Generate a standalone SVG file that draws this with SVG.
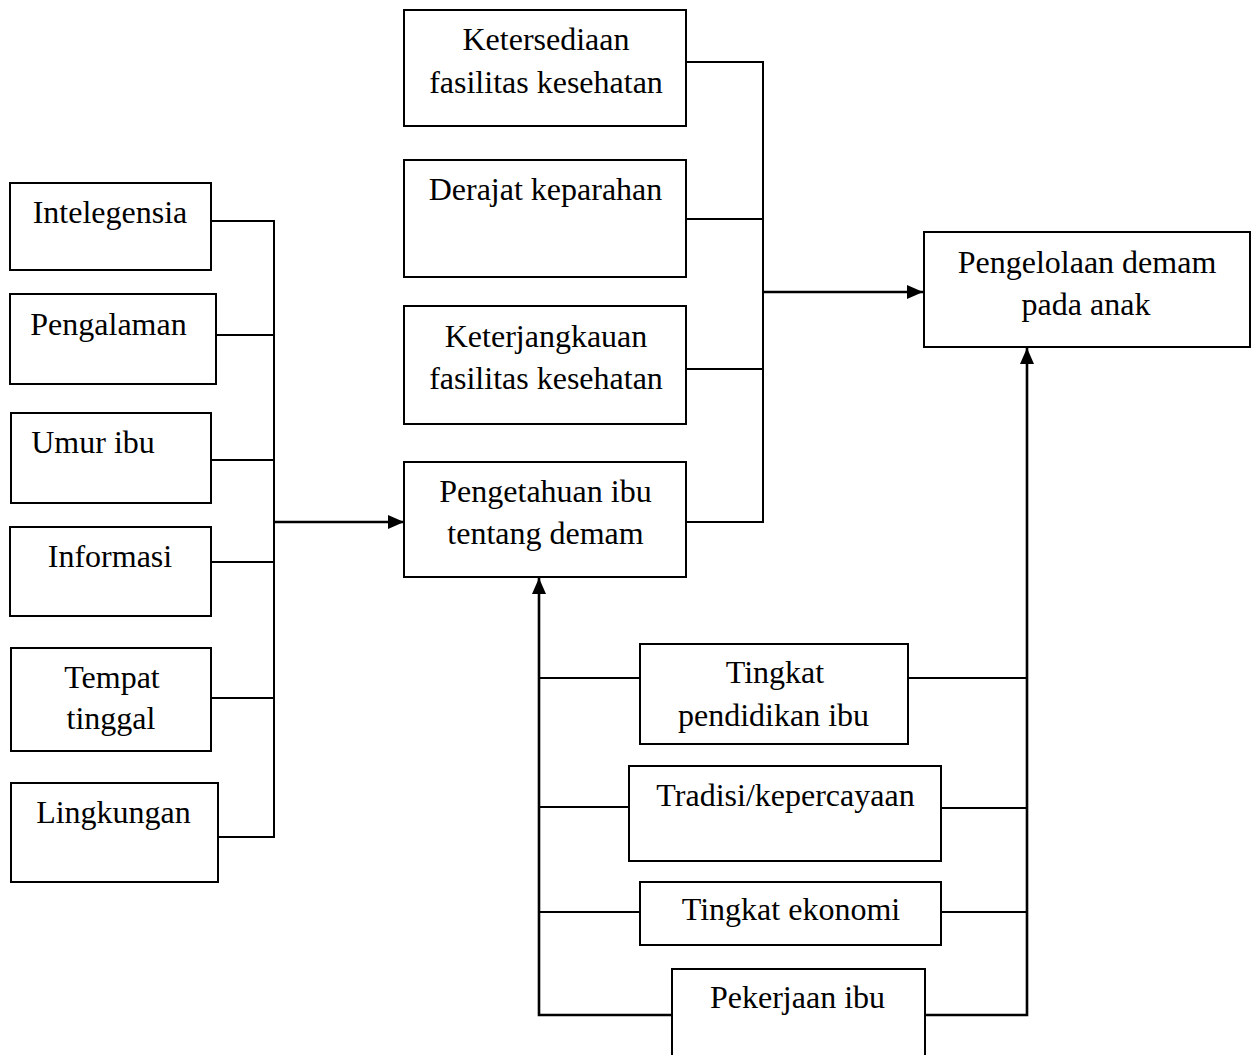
<svg xmlns="http://www.w3.org/2000/svg" width="1253" height="1055" viewBox="0 0 1253 1055">
<style>
.box{fill:#fff;stroke:#000;stroke-width:2}
.ln{fill:none;stroke:#000;stroke-width:2}
.lt{fill:none;stroke:#000;stroke-width:2.6}
text{font-family:"Liberation Serif","Times New Roman",serif;font-size:32px;fill:#000;text-anchor:middle}
</style>
<defs>
<marker id="ah" viewBox="0 0 16 14" refX="16" refY="7" markerWidth="16" markerHeight="14" markerUnits="userSpaceOnUse" orient="auto">
<path d="M0,0 L16,7 L0,14 Z" fill="#000"/>
</marker>
</defs>
<rect width="1253" height="1055" fill="#fff"/>
<g id="connectors">
<path class="ln" d="M211,221 H274 V837 H218"/>
<path class="ln" d="M216,335 H274"/>
<path class="ln" d="M211,460 H274"/>
<path class="ln" d="M211,562 H274"/>
<path class="ln" d="M211,698 H274"/>
<path class="lt" d="M274,522 H404" marker-end="url(#ah)"/>
<path class="ln" d="M686,62 H763 V522 H686"/>
<path class="ln" d="M686,219 H763"/>
<path class="ln" d="M686,369 H763"/>
<path class="lt" d="M763,292 H923" marker-end="url(#ah)"/>
<path class="lt" d="M672,1015 H539 V578" marker-end="url(#ah)"/>
<path class="ln" d="M539,678 H640"/>
<path class="ln" d="M539,807 H629"/>
<path class="ln" d="M539,912 H640"/>
<path class="lt" d="M925,1015 H1027 V348" marker-end="url(#ah)"/>
<path class="ln" d="M908,678 H1027"/>
<path class="ln" d="M941,808 H1027"/>
<path class="ln" d="M941,912 H1027"/>
</g>
<g id="n-intelegensia"><rect class="box" x="10" y="183" width="201" height="87"/><text x="110" y="223">Intelegensia</text></g>
<g id="n-pengalaman"><rect class="box" x="10" y="294" width="206" height="90"/><text x="108.5" y="335">Pengalaman</text></g>
<g id="n-umur"><rect class="box" x="11" y="413" width="200" height="90"/><text x="93" y="453">Umur ibu</text></g>
<g id="n-informasi"><rect class="box" x="10" y="527" width="201" height="89"/><text x="110" y="567">Informasi</text></g>
<g id="n-tempat"><rect class="box" x="11" y="648" width="200" height="103"/><text x="112" y="688">Tempat</text><text x="111" y="729">tinggal</text></g>
<g id="n-lingkungan"><rect class="box" x="11" y="783" width="207" height="99"/><text x="113.5" y="823">Lingkungan</text></g>
<g id="n-ketersediaan"><rect class="box" x="404" y="10" width="282" height="116"/><text x="546" y="50">Ketersediaan</text><text x="546" y="93">fasilitas kesehatan</text></g>
<g id="n-derajat"><rect class="box" x="404" y="160" width="282" height="117"/><text x="545.5" y="200">Derajat keparahan</text></g>
<g id="n-keterjangkauan"><rect class="box" x="404" y="306" width="282" height="118"/><text x="546" y="347">Keterjangkauan</text><text x="546" y="389">fasilitas kesehatan</text></g>
<g id="n-pengetahuan"><rect class="box" x="404" y="462" width="282" height="115"/><text x="545.5" y="502">Pengetahuan ibu</text><text x="545.5" y="544">tentang demam</text></g>
<g id="n-pengelolaan"><rect class="box" x="924" y="232" width="326" height="115"/><text x="1087" y="273">Pengelolaan demam</text><text x="1086" y="315">pada anak</text></g>
<g id="n-pendidikan"><rect class="box" x="640" y="644" width="268" height="100"/><text x="775" y="683">Tingkat</text><text x="773.5" y="726">pendidikan ibu</text></g>
<g id="n-tradisi"><rect class="box" x="629" y="766" width="312" height="95"/><text x="785.5" y="806">Tradisi/kepercayaan</text></g>
<g id="n-ekonomi"><rect class="box" x="640" y="882" width="301" height="63"/><text x="791" y="920">Tingkat ekonomi</text></g>
<g id="n-pekerjaan"><rect class="box" x="672" y="969" width="253" height="100"/><text x="797.5" y="1008">Pekerjaan ibu</text></g>
</svg>
